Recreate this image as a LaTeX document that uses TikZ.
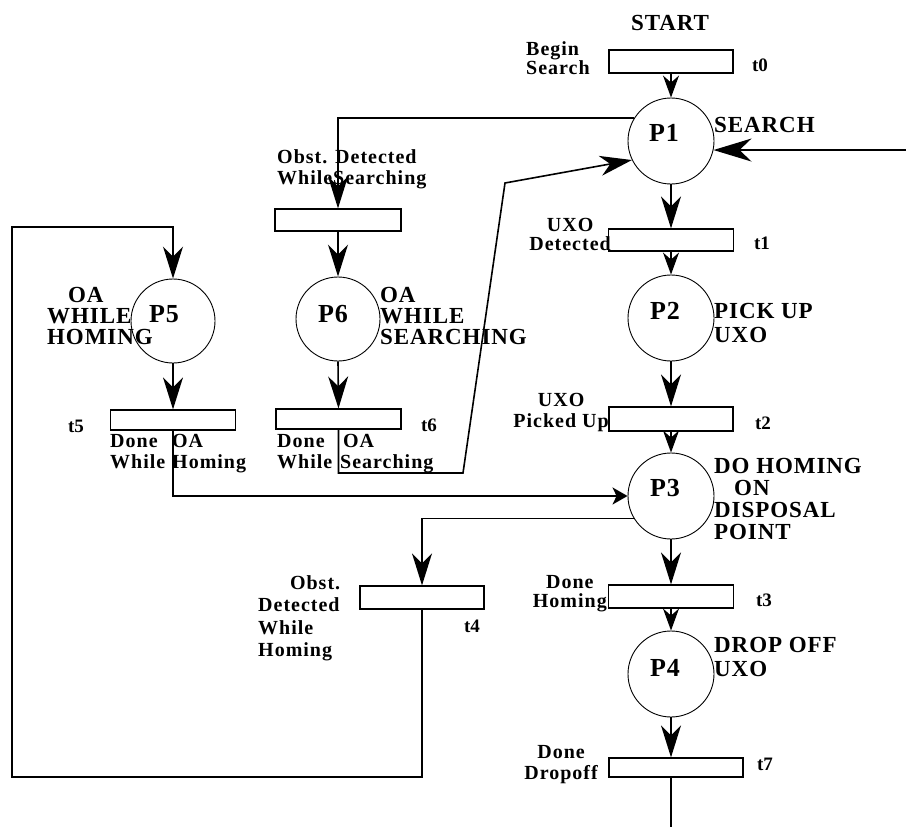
\documentclass[tikz,border=0pt]{standalone}
\usepackage{fontspec}
\setmainfont{Liberation Serif}
\newfontfamily\lowf[LetterSpace=5]{Liberation Serif}
\newfontfamily\capf[LetterSpace=4]{Liberation Serif}
\newfontfamily\pf[LetterSpace=4]{Liberation Serif}
\usetikzlibrary{arrows.meta}
\tikzset{
  trans/.style={draw, rectangle, line width=1.2pt, inner sep=0pt, fill=white},
  place/.style={draw, circle, line width=0.9pt, minimum size=86pt, inner sep=0pt},
  plab/.style={font=\pf\bfseries\fontsize{26}{26}\selectfont, inner sep=0pt},
  tlbl/.style={font=\bfseries\fontsize{19}{19}\selectfont, inner sep=0pt},
  lowlbl/.style={font=\lowf\bfseries\fontsize{20}{#1}\selectfont, inner sep=0pt},
  lowlbl/.default=20,
  caplbl/.style={font=\capf\bfseries\fontsize{23}{#1}\selectfont, inner sep=0pt},
  caplbl/.default=22,
  conn/.style={line width=1.6pt},
  arr/.style={conn, -{Stealth[length=32pt,width=20pt,inset=10pt]}},
  sarr/.style={conn, -{Stealth[length=22pt,width=16pt,inset=7pt]}},
  bigarr/.style={conn, -{Stealth[length=38pt,width=23pt,inset=12pt]}},
  parr/.style={conn, -{Stealth[length=15pt,width=17pt,inset=4pt]}}
}
\begin{document}
\begin{tikzpicture}[x=1pt,y=-1pt]
\useasboundingbox (0,0) rectangle (906,827);

% places
\node[place] (P1) at (671,141) {};
\node[place] (P2) at (671,318) {};
\node[place] (P3) at (671,496) {};
\node[place] (P4) at (671,674) {};
\node[place, minimum size=84pt] (P5) at (173,321) {};
\node[place, minimum size=84pt] (P6) at (338,319) {};

% transitions
\node[trans, minimum width=124pt, minimum height=23pt] (t0) at (671,61.5) {};
\node[trans, minimum width=125pt, minimum height=22pt] (t1) at (671,240) {};
\node[trans, minimum width=124pt, minimum height=24pt] (t2) at (671,419) {};
\node[trans, minimum width=125pt, minimum height=23pt] (t3) at (671,596.5) {};
\node[trans, minimum width=134pt, minimum height=19pt] (t7) at (676,767.5) {};
\node[trans, minimum width=124pt, minimum height=23pt] (t4) at (422,597.5) {};
\node[trans, minimum width=126pt, minimum height=22pt] (tws) at (338,220) {};
\node[trans, minimum width=125pt, minimum height=20pt] (t6) at (338.5,419) {};
\node[trans, minimum width=125pt, minimum height=20pt] (t5) at (173,420) {};

% free coordinates
\coordinate (rin) at (906,150);
\coordinate (bot) at (671,827);
\coordinate (c1) at (463,473);
\coordinate (c2) at (505,183);
\coordinate (c3) at (12,777);
\coordinate (c4) at (12,227);

% connectors
\draw[sarr] (t0.south) -- (P1.north);
\draw[arr] (P1.south) -- (t1.north);
\draw[sarr] (t1.south) -- (P2.north);
\draw[arr] (P2.south) -- (t2.north);
\draw[sarr] (t2.south) -- (P3.north);
\draw[arr] (P3.south) -- (t3.north);
\draw[sarr] (t3.south) -- (P4.north);
\draw[arr] (P4.south) -- (P4.south |- t7.north);
\draw[conn] (P4.south |- t7.south) -- (bot);
\draw[bigarr] (rin) -- (P1.-12);
\draw[arr] (P1.148) -| (tws.north);
\draw[arr] (tws.south) -- (P6.north);
\draw[arr] (P6.south) -- (t6.north);
\draw[arr] (t6.south) |- (c1) -- (c2) -- (P1.206);
\draw[parr] (t5.south) |- (P3.west);
\draw[arr] (P3.211) -| (t4.north);
\draw[arr] (t4.south) |- (c3) -- (c4) -| (P5.north);
\draw[arr] (P5.south) -- (t5.north);

% place labels
\node[plab] (P1t) at ([shift={(-7,-8)}]P1.center) {P1};
\node[plab] (P2t) at ([shift={(-6,-7)}]P2.center) {P2};
\node[plab] (P3t) at ([shift={(-6,-8)}]P3.center) {P3};
\node[plab] (P4t) at ([shift={(-6,-6)}]P4.center) {P4};
\node[plab] (P5t) at ([shift={(-9,-7)}]P5.center) {P5};
\node[plab] (P6t) at ([shift={(-5,-5)}]P6.center) {P6};

% text labels
\node[caplbl, anchor=north] (lstart) at (670,15) {START};
\node[lowlbl=17, anchor=north west, align=left] (lbegin) at (526,41) {Begin\\Search};
\node[tlbl] (lt0) at (760,65) {t0};
\node[caplbl, anchor=north west] (lsearch) at (714,117) {SEARCH};
\node[lowlbl=19, anchor=north east, align=center] (ldet) at (611,218) {UXO\\Detected};
\node[tlbl] (lt1) at (762,243) {t1};
\node[caplbl=24, anchor=north west, align=left] (lpick) at (714,303) {PICK UP\\UXO};
\node[lowlbl=21, anchor=north east, align=center] (lpicked) at (609,393) {UXO\\Picked Up};
\node[tlbl] (lt2) at (763,423) {t2};
\node[caplbl, anchor=north west, align=left] (lhome) at (714,458) {DO HOMING\\\hspace*{20pt}ON\\DISPOSAL\\POINT};
\node[lowlbl=19, anchor=north east, align=center] (ldoneh) at (607,575) {Done\\Homing};
\node[tlbl] (lt3) at (764,600) {t3};
\node[caplbl=24, anchor=north west, align=left] (ldrop) at (714,637) {DROP OFF\\UXO};
\node[lowlbl=21, anchor=north east, align=center] (ldrp) at (598,745) {Done\\Dropoff};
\node[tlbl] (lt7) at (765,764) {t7};
\node[lowlbl=22.5, anchor=north west, align=left] (lobh) at (258,575) {\makebox[82pt][r]{Obst.}\\Detected\\While\\Homing};
\node[tlbl] (lt4) at (472,626) {t4};
\node[lowlbl=21, anchor=north west, align=left] (lobs) at (277,149) {\makebox[58pt][l]{Obst.}Detected\\\makebox[56pt][l]{While}Searching};
\node[lowlbl=21, anchor=north west, align=left] (ld5) at (110,434) {\makebox[62pt][l]{Done}OA\\\makebox[62pt][l]{While}Homing};
\node[tlbl] (lt5) at (76,426) {t5};
\node[lowlbl=21, anchor=north west, align=left] (ld6) at (277,434) {\makebox[66pt][l]{Done}OA\\\makebox[63pt][l]{While}Searching};
\node[tlbl] (lt6) at (429,425) {t6};
\node[caplbl=21, anchor=north west, align=left] (loah) at (47,287) {\hspace*{21pt}OA\\WHILE\\HOMING};
\node[caplbl=21, anchor=north west, align=left] (loas) at (380,287) {OA\\WHILE\\SEARCHING};
\end{tikzpicture}
\end{document}
